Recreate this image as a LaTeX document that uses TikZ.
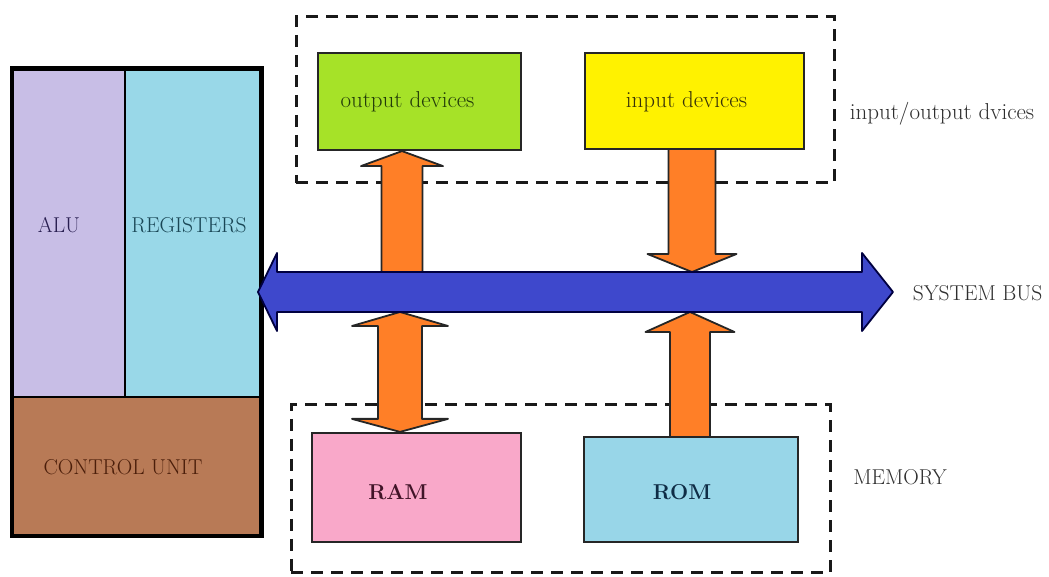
\documentclass[tikz,border=0pt]{standalone}
\usetikzlibrary{calc}

\definecolor{alucol}{RGB}{200,190,230}
\definecolor{regcol}{RGB}{153,216,232}
\definecolor{cucol}{RGB}{184,122,86}
\definecolor{outcol}{RGB}{166,226,40}
\definecolor{incol}{RGB}{255,242,0}
\definecolor{ramcol}{RGB}{249,168,201}
\definecolor{romcol}{RGB}{152,214,232}
\definecolor{buscol}{RGB}{62,72,204}
\definecolor{arrcol}{RGB}{255,127,39}

\pgfdeclarelayer{back}
\pgfdeclarelayer{mid}
\pgfsetlayers{back,mid,main}

\tikzset{
  unit/.style={draw, line width=2.5pt, inner sep=0pt},
  dev/.style={draw=black!85, line width=2.2pt, inner sep=0pt},
  group/.style={draw=black!90, line width=3pt, dash pattern=on 12pt off 8pt, inner sep=0pt},
  txt/.style={font=\fontsize{21.5}{25}\selectfont, inner sep=0pt},
  lctxt/.style={font=\fontsize{23}{27}\selectfont, inner sep=0pt},
  orarrow/.style={draw=black!85, fill=arrcol, line width=1.8pt, line join=round},
  busarrow/.style={draw=black!75!blue, fill=buscol, line width=1.8pt, line join=round}
}

\begin{document}
\begin{tikzpicture}[x=1pt,y=1pt]
\useasboundingbox (0,0) rectangle (1049,577);

\begin{pgfonlayer}{back}
% dashed groups
\node[group, minimum width=538pt, minimum height=166pt] (iogroup) at (565,477) {};
\node[group, minimum width=539pt, minimum height=168pt] (memgroup) at (560.5,88) {};
% cpu
\node[unit, fill=alucol, minimum width=112pt, minimum height=327pt] (alu) at (69,343.5) {};
\node[unit, fill=regcol, minimum width=135pt, minimum height=327pt] (reg) at (192.5,343.5) {};
\node[unit, fill=cucol, minimum width=247pt, minimum height=138pt] (ctrl) at (136.5,111) {};
\draw[line width=4.5pt] (alu.north west) rectangle (ctrl.south east);
\end{pgfonlayer}

% devices and memory
\node[dev, fill=outcol, minimum width=203pt, minimum height=97pt] (outdev) at (419.5,475.5) {};
\node[dev, fill=incol, minimum width=219pt, minimum height=96pt] (indev) at (694.5,476) {};
\node[dev, fill=ramcol, minimum width=209pt, minimum height=109pt] (ram) at (416.5,89.5) {};
\node[dev, fill=romcol, minimum width=214pt, minimum height=105pt] (rom) at (691,87.5) {};

% bus ends
\coordinate (busL) at (258,285);
\coordinate (busR) at (893,285);
\coordinate (outA) at (402,290);
\coordinate (inB) at (692,305);
\coordinate (ramA) at (400,265);
\coordinate (romB) at (690,265);

\begin{pgfonlayer}{mid}
% orange arrows
\draw[orarrow] ($(outA)+(-20.5,0)$) -- ($(outdev.south -| outA)+(-20.5,-15)$) -- ($(outdev.south -| outA)+(-41,-15)$) -- (outdev.south -| outA) -- ($(outdev.south -| outA)+(41,-15)$) -- ($(outdev.south -| outA)+(20.5,-15)$) -- ($(outA)+(20.5,0)$);
\draw[orarrow] ($(indev.south -| inB)+(-23.5,0)$) -- ($(inB)+(-23.5,18)$) -- ($(inB)+(-44.5,18)$) -- (inB) -- ($(inB)+(44.5,18)$) -- ($(inB)+(23.5,18)$) -- ($(indev.south -| inB)+(23.5,0)$);
\draw[orarrow] (ramA) -- ($(ramA)+(48,-14)$) -- ($(ramA)+(22,-14)$) -- ($(ram.north -| ramA)+(22,13)$) -- ($(ram.north -| ramA)+(48,13)$) -- (ram.north -| ramA) -- ($(ram.north -| ramA)+(-48,13)$) -- ($(ram.north -| ramA)+(-22,13)$) -- ($(ramA)+(-22,-14)$) -- ($(ramA)+(-48,-14)$) -- cycle;
\draw[orarrow] ($(rom.north -| romB)+(-20,0)$) -- ($(romB)+(-20,-20)$) -- ($(romB)+(-44.5,-20)$) -- (romB) -- ($(romB)+(44.5,-20)$) -- ($(romB)+(20,-20)$) -- ($(rom.north -| romB)+(20,0)$);
% system bus
\draw[busarrow] (busL) -- ($(busL)+(19,39)$) -- ($(busL)+(19,20)$) -- ($(busR)+(-31,20)$) -- ($(busR)+(-31,39)$) -- (busR) -- ($(busR)+(-31,-39)$) -- ($(busR)+(-31,-20)$) -- ($(busL)+(19,-20)$) -- ($(busL)+(19,-39)$) -- cycle;
\end{pgfonlayer}

% texts
\node[txt, text={rgb,255:red,40;green,30;blue,80}] (alutext) at (59,352) {ALU};
\node[txt, text={rgb,255:red,25;green,70;blue,85}] (regtext) at (189,352) {REGISTERS};
\node[txt, text={rgb,255:red,75;green,30;blue,10}] (cutext) at (123,110) {CONTROL UNIT};
\node[lctxt, text={rgb,255:red,35;green,60;blue,10}] (outtext) at (407.5,475) {output devices};
\node[lctxt, text={rgb,255:red,55;green,50;blue,10}] (intext) at (686.5,475) {input devices};
\node[txt, text={rgb,255:red,65;green,20;blue,40}] (ramtext) at (398,85) {\bfseries RAM};
\node[txt, text={rgb,255:red,15;green,45;blue,70}] (romtext) at (682,85) {\bfseries ROM};
\node[lctxt, text=black!82] (iolabel) at (942,463) {input/output dvices};
\node[txt, text=black!82] (buslabel) at (977.5,284) {SYSTEM BUS};
\node[txt, text=black!82] (memlabel) at (900,100) {MEMORY};
\end{tikzpicture}
\end{document}
